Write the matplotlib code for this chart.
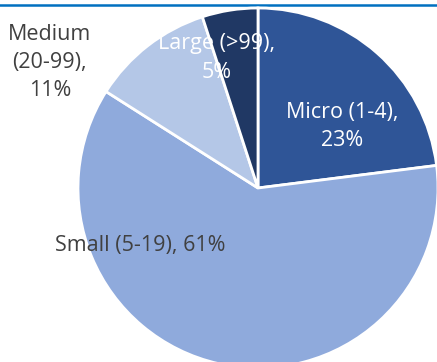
import matplotlib
import matplotlib.pyplot as plt

matplotlib.rcParams.update({
    'font.family': 'Open Sans',
    'font.size': 15,
})

# firm size shares (%), clockwise from 12 o'clock
categories = ['Micro (1-4)', 'Small (5-19)', 'Medium (20-99)', 'Large (>99)']
shares = [23, 61, 11, 5]
colors = ['#2F5597', '#8FAADC', '#B4C7E7', '#203864']

# label text, placement (data coords, pie radius = 1) and colour
label_text = ['Micro (1-4),\n23%', 'Small (5-19), 61%',
              'Medium\n(20-99),\n11%', 'Large (>99),\n5%']
label_pos = [(0.467, 0.343), (-0.656, -0.317), (-1.156, 0.697), (-0.228, 0.722)]
label_color = ['white', '#404040', '#404040', 'white']

W, H = 437, 362
CX, CY, R = 258, 188, 180  # pie centre / radius in pixels

fig = plt.figure(figsize=(W / 100, H / 100), dpi=100)
ax = fig.add_axes([0, 0, 1, 1])

ax.pie(shares, colors=colors, startangle=90, counterclock=False,
       radius=1, wedgeprops=dict(edgecolor='white', linewidth=2))

for txt, (x, y), c in zip(label_text, label_pos, label_color):
    ax.text(x, y, txt, ha='center', va='center', color=c,
            linespacing=1.45, fontsize=15.5)

# heading rule running along the top
ax.axhline((CY - 5) / R, color='#0070C0', lw=1.8, zorder=0)

ax.set_xlim(-CX / R, (W - CX) / R)
ax.set_ylim((CY - H) / R, CY / R)
ax.set_aspect('auto')
ax.axis('off')

fig.savefig('out.png', dpi=100)
